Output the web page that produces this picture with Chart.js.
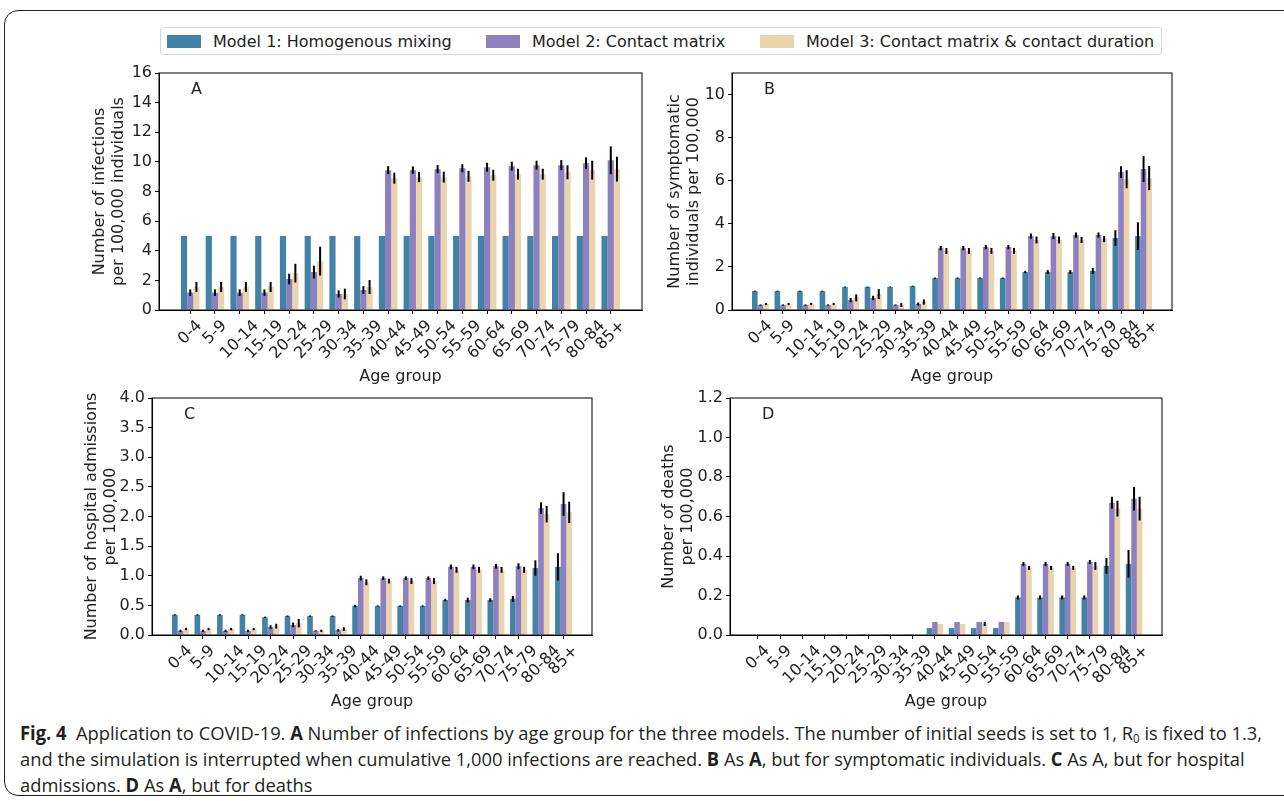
<!DOCTYPE html>
<html>
<head>
<meta charset="utf-8">
<script src="https://cdn.jsdelivr.net/npm/chart.js@4.4.0/dist/chart.umd.min.js"></script>
<style>
  body { margin: 0; background: #fff; width: 1284px; height: 801px; overflow: hidden; position: relative; font-family: 'DejaVu Sans', sans-serif; color: #222; }
  .frame { position: absolute; left: 4px; top: 10px; width: 1320px; height: 784px; border: 1.5px solid #222; border-radius: 14px; }
  .legend { position: absolute; left: 160px; top: 27px; width: 1002px; height: 28px; border: 1px solid #d8d8d8; border-radius: 3px; box-sizing: border-box; font-size: 16px; }
  .legend .item { position: absolute; top: 0; height: 26px; display: flex; align-items: center; white-space: nowrap; }
  .legend .sw { width: 34px; height: 13px; margin-right: 12px; }
  .caption { position: absolute; left: 20px; top: 720px; font-family: 'Open Sans', sans-serif; font-size: 19px; line-height: 26px; white-space: nowrap; color: #231f20; transform-origin: 0 0; }
  .caption b { font-weight: bold; }
  .caption sub { font-size: 12px; line-height: 0; vertical-align: -3px; }
</style>
</head>
<body>
<div class="frame"></div>
<div class="legend" id="legend"></div>
<div class="caption" id="caption">
<span id="capLine1"><b>Fig. 4</b>&nbsp; Application to COVID-19. <b>A</b> Number of infections by age group for the three models. The number of initial seeds is set to 1, R<sub>0</sub> is fixed to 1.3,</span><br>
<span>and the simulation is interrupted when cumulative 1,000 infections are reached. <b>B</b> As <b>A</b>, but for symptomatic individuals. <b>C</b> As A, but for hospital</span><br>
<span>admissions. <b>D</b> As <b>A</b>, but for deaths</span>
</div>
<script>
// age groups on the x axis
const ageGroups = ['0-4', '5-9', '10-14', '15-19', '20-24', '25-29', '30-34', '35-39', '40-44',
  '45-49', '50-54', '55-59', '60-64', '65-69', '70-74', '75-79', '80-84', '85+'];
const modelNames = ['Model 1: Homogenous mixing', 'Model 2: Contact matrix', 'Model 3: Contact matrix & contact duration'];
const modelColors = ['#4282a6', '#8e80bf', '#ebd3ad'];

// A - infections per 100,000
const infM1 = [5, 5, 5, 5, 5, 5, 5, 5, 5, 5, 5, 5, 5, 5, 5, 5, 5, 5];
const infM2 = [1.17, 1.17, 1.17, 1.17, 2.09, 2.56, 1.08, 1.35, 9.44, 9.44, 9.51, 9.57, 9.64, 9.71, 9.78, 9.78, 9.91, 10.11];
const infM3 = [1.55, 1.55, 1.55, 1.55, 2.49, 3.3, 1.08, 1.55, 8.9, 8.97, 8.97, 9.03, 9.1, 9.17, 9.17, 9.3, 9.44, 9.51];
const infErrM1 = [0, 0, 0, 0, 0, 0, 0, 0, 0, 0, 0, 0, 0, 0, 0, 0, 0, 0];
const infErrM2 = [0.22, 0.22, 0.22, 0.22, 0.36, 0.43, 0.24, 0.26, 0.27, 0.25, 0.27, 0.27, 0.3, 0.3, 0.3, 0.34, 0.4, 0.94];
const infErrM3 = [0.34, 0.34, 0.34, 0.34, 0.63, 0.97, 0.36, 0.47, 0.37, 0.34, 0.37, 0.37, 0.37, 0.37, 0.37, 0.47, 0.64, 0.84];
const infTicks = [0, 2, 4, 6, 8, 10, 12, 14, 16];

// B - symptomatic individuals per 100,000
const symM1 = [0.88, 0.88, 0.88, 0.88, 1.07, 1.07, 1.07, 1.11, 1.48, 1.48, 1.48, 1.48, 1.76, 1.76, 1.76, 1.81, 3.34, 3.43];
const symM2 = [0.23, 0.23, 0.23, 0.23, 0.46, 0.56, 0.23, 0.28, 2.87, 2.87, 2.92, 2.92, 3.43, 3.43, 3.48, 3.48, 6.4, 6.54];
const symM3 = [0.28, 0.28, 0.28, 0.28, 0.56, 0.74, 0.23, 0.37, 2.74, 2.74, 2.74, 2.74, 3.25, 3.25, 3.25, 3.29, 6.07, 6.12];
const symErrM1 = [0.02, 0.02, 0.02, 0.02, 0.02, 0.02, 0.02, 0.02, 0.03, 0.03, 0.03, 0.03, 0.05, 0.09, 0.09, 0.14, 0.36, 0.64];
const symErrM2 = [0.03, 0.03, 0.03, 0.03, 0.1, 0.1, 0.03, 0.07, 0.1, 0.1, 0.1, 0.1, 0.12, 0.14, 0.12, 0.12, 0.27, 0.6];
const symErrM3 = [0.05, 0.05, 0.05, 0.05, 0.16, 0.23, 0.09, 0.12, 0.14, 0.14, 0.14, 0.14, 0.16, 0.16, 0.14, 0.14, 0.42, 0.56];
const symTicks = [0, 2, 4, 6, 8, 10];

// C - hospital admissions per 100,000
const hosM1 = [0.34, 0.34, 0.34, 0.34, 0.3, 0.32, 0.32, 0.32, 0.49, 0.49, 0.49, 0.49, 0.59, 0.59, 0.59, 0.61, 1.13, 1.15];
const hosM2 = [0.07, 0.07, 0.07, 0.07, 0.135, 0.17, 0.07, 0.08, 0.96, 0.96, 0.96, 0.96, 1.15, 1.15, 1.16, 1.16, 2.14, 2.21];
const hosM3 = [0.1, 0.1, 0.1, 0.1, 0.15, 0.2, 0.07, 0.1, 0.89, 0.91, 0.91, 0.91, 1.1, 1.1, 1.1, 1.1, 2.04, 2.07];
const hosErrM1 = [0.01, 0.01, 0.01, 0.01, 0.01, 0.01, 0.01, 0.01, 0.02, 0.01, 0.01, 0.01, 0.02, 0.04, 0.03, 0.05, 0.13, 0.23];
const hosErrM2 = [0.02, 0.02, 0.02, 0.02, 0.03, 0.04, 0.01, 0.02, 0.04, 0.03, 0.03, 0.03, 0.04, 0.04, 0.04, 0.05, 0.1, 0.2];
const hosErrM3 = [0.02, 0.02, 0.02, 0.02, 0.04, 0.07, 0.02, 0.03, 0.05, 0.04, 0.05, 0.05, 0.05, 0.05, 0.05, 0.05, 0.14, 0.18];
const hosTicks = [0, 0.5, 1, 1.5, 2, 2.5, 3, 3.5, 4];

// D - deaths per 100,000
const deaM1 = [0, 0, 0, 0, 0.004, 0.004, 0.004, 0.004, 0.035, 0.035, 0.035, 0.035, 0.19, 0.19, 0.19, 0.19, 0.35, 0.36];
const deaM2 = [0, 0, 0, 0, 0, 0, 0, 0, 0.066, 0.066, 0.066, 0.066, 0.36, 0.36, 0.36, 0.37, 0.67, 0.69];
const deaM3 = [0, 0, 0, 0, 0, 0, 0, 0, 0.056, 0.056, 0.056, 0.066, 0.34, 0.34, 0.34, 0.35, 0.64, 0.64];
const deaErrM1 = [0, 0, 0, 0, 0, 0, 0, 0, 0, 0, 0, 0, 0.01, 0.01, 0.01, 0.01, 0.04, 0.07];
const deaErrM2 = [0, 0, 0, 0, 0, 0, 0, 0, 0, 0, 0, 0, 0.01, 0.01, 0.01, 0.01, 0.03, 0.06];
const deaErrM3 = [0, 0, 0, 0, 0, 0, 0, 0, 0, 0, 0.01, 0, 0.01, 0.01, 0.01, 0.02, 0.04, 0.06];
const deaTicks = [0, 0.2, 0.4, 0.6, 0.8, 1, 1.2];

const FONT = 'DejaVu Sans';
const INK = '#222';

// legend (shared by the four panels)
const legendEl = document.getElementById('legend');
const legendLeft = [6, 325, 599];
modelNames.forEach((name, k) => {
  const item = document.createElement('div');
  item.className = 'item';
  item.style.left = legendLeft[k] + 'px';
  item.innerHTML = `<span class="sw" style="background:${modelColors[k]}"></span><span>${name.replace('&', '&amp;')}</span>`;
  legendEl.appendChild(item);
});

// squeeze the caption to the width of the page column
const cap = document.getElementById('caption');
const line1 = document.getElementById('capLine1');
cap.style.transform = `scaleX(${1242 / line1.getBoundingClientRect().width})`;

// frame, error bars, x tick labels and panel letter
const extras = {
  id: 'extras',
  afterDatasetsDraw(chart) {
    const ctx = chart.ctx, y = chart.scales.y;
    ctx.save();
    ctx.strokeStyle = '#000';
    ctx.lineWidth = 2;
    chart.data.datasets.forEach((ds, k) => {
      chart.getDatasetMeta(k).data.forEach((bar, i) => {
        const e = ds.errors[i];
        if (!e) return;
        const v = ds.data[i].y;
        ctx.beginPath();
        ctx.moveTo(bar.x, y.getPixelForValue(v - e));
        ctx.lineTo(bar.x, y.getPixelForValue(v + e));
        ctx.stroke();
      });
    });
    ctx.restore();
  },
  afterDraw(chart) {
    const ctx = chart.ctx, a = chart.chartArea, xs = chart.scales.x;
    ctx.save();
    ctx.strokeStyle = '#000';
    ctx.lineWidth = 1;
    ctx.strokeRect(a.left, a.top, a.right - a.left, a.bottom - a.top);
    ctx.fillStyle = INK;
    ctx.font = `16px "${FONT}"`;
    ctx.textBaseline = 'middle';
    ctx.fillText(chart.options.plugins.extras.letter, a.left + 32, a.top + 17);
    // rotated tick labels, box centred under the tick (matplotlib style)
    ctx.textAlign = 'center';
    ageGroups.forEach((lab, i) => {
      const x = xs.getPixelForValue(i);
      const half = (ctx.measureText(lab).width + 18) * Math.SQRT1_2 / 2;
      ctx.save();
      ctx.translate(x, a.bottom + 7 + half);
      ctx.rotate(-Math.PI / 4);
      ctx.fillText(lab, 0, 0);
      ctx.restore();
    });
    ctx.restore();
  }
};

const panels = [
  { letter: 'A', box: { l: 159, t: 73, r: 642, b: 310 }, yW: 69, max: 16, dec: 0, ticks: infTicks,
    title: ['Number of infections', 'per 100,000 individuals'],
    values: [infM1, infM2, infM3], errors: [infErrM1, infErrM2, infErrM3] },
  { letter: 'B', box: { l: 732, t: 73, r: 1172, b: 310 }, yW: 67, max: 11, dec: 0, ticks: symTicks,
    title: ['Number of symptomatic', 'individuals per 100,000'],
    values: [symM1, symM2, symM3], errors: [symErrM1, symErrM2, symErrM3] },
  { letter: 'C', box: { l: 152, t: 398, r: 592, b: 635 }, yW: 70, max: 4, dec: 1, ticks: hosTicks,
    title: ['Number of hospital admissions', 'per 100,000'],
    values: [hosM1, hosM2, hosM3], errors: [hosErrM1, hosErrM2, hosErrM3] },
  { letter: 'D', box: { l: 730, t: 398, r: 1162, b: 635 }, yW: 71, max: 1.2, dec: 1, ticks: deaTicks,
    title: ['Number of deaths', 'per 100,000'],
    values: [deaM1, deaM2, deaM3], errors: [deaErrM1, deaErrM2, deaErrM3] }
];

panels.forEach(p => {
  const left = p.box.l - p.yW, top = p.box.t - 13;
  const wrap = document.createElement('div');
  wrap.style.cssText = `position:absolute;left:${left}px;top:${top}px;width:${p.box.r + 12 - left}px;height:${p.box.b + 76 - top}px`;
  const cv = document.createElement('canvas');
  wrap.appendChild(cv);
  document.body.appendChild(wrap);

  new Chart(cv, {
    type: 'bar',
    data: {
      datasets: p.values.map((vals, k) => ({
        label: modelNames[k],
        data: vals.map((v, i) => ({ x: i, y: v })),
        errors: p.errors[k],
        backgroundColor: modelColors[k],
        borderWidth: 0,
        categoryPercentage: 0.75,
        barPercentage: 1
      }))
    },
    options: {
      responsive: true,
      maintainAspectRatio: false,
      animation: false,
      devicePixelRatio: 1,
      layout: { padding: { top: 13, right: 12, left: 0, bottom: 0 } },
      plugins: { legend: { display: false }, tooltip: { enabled: false }, extras: { letter: p.letter } },
      scales: {
        x: {
          type: 'linear',
          min: -1.2625,
          max: 18.2625,
          offset: false,
          afterBuildTicks: s => { s.ticks = ageGroups.map((_, i) => ({ value: i })); },
          afterFit: s => { s.height = 76; },
          ticks: { display: false },
          grid: { display: true, offset: false, drawOnChartArea: false, drawTicks: true, tickLength: 4, color: '#000' },
          border: { display: true, color: '#000', width: 1 },
          title: { display: true, text: 'Age group', color: INK, font: { family: FONT, size: 16 }, padding: { top: 0, bottom: 0 } }
        },
        y: {
          min: 0,
          max: p.max,
          afterBuildTicks: s => { s.ticks = p.ticks.map(v => ({ value: v })); },
          afterFit: s => { s.width = p.yW; },
          ticks: {
            padding: 3, font: { family: FONT, size: 16 }, color: INK,
            callback: v => Number(v).toFixed(p.dec)
          },
          grid: { drawOnChartArea: false, tickLength: 4, color: '#000' },
          border: { display: true, color: '#000', width: 1 },
          title: { display: true, text: p.title, color: INK, font: { family: FONT, size: 16, lineHeight: 1.2 }, padding: { top: 0, bottom: 0 } }
        }
      }
    },
    plugins: [extras]
  });
});
</script>
</body>
</html>
